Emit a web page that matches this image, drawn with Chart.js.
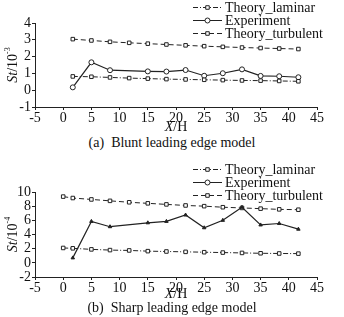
<!DOCTYPE html>
<html>
<head>
<meta charset="utf-8">
<script src="https://cdn.jsdelivr.net/npm/chart.js@4/dist/chart.umd.min.js"></script>
<style>
  body { margin: 0; background: #fff; width: 344px; height: 317px; position: relative; overflow: hidden; }
  canvas { position: absolute; left: 0; }
  .caption { position: absolute; left: 0; width: 344px; text-align: center;
             font-family: "Times New Roman", "Liberation Serif", serif; font-size: 14px; color: #111; }
</style>
</head>
<body>
<canvas id="bluntChart" width="344" height="134" style="top:0"></canvas>
<div class="caption" style="top:135px">(a)&nbsp; Blunt leading edge model</div>
<canvas id="sharpChart" width="344" height="142" style="top:160px"></canvas>
<div class="caption" style="top:300px">(b)&nbsp; Sharp leading edge model</div>
<script>
// (a) blunt leading edge, St / 10^-3
const bluntTheoryX = [1.7, 5, 8.3, 11.7, 15, 18.3, 21.7, 25, 28.3, 31.7, 35, 38.3, 41.7];
const bluntLaminar = [0.82, 0.8, 0.76, 0.72, 0.69, 0.66, 0.64, 0.62, 0.6, 0.58, 0.57, 0.55, 0.53];
const bluntTurbulent = [3.04, 2.96, 2.88, 2.82, 2.77, 2.72, 2.67, 2.62, 2.58, 2.54, 2.51, 2.48, 2.45];
const bluntExpX = [1.7, 5, 8.3, 15, 18.3, 21.7, 25, 28.3, 31.7, 35, 38.3, 41.7];
const bluntExp = [0.17, 1.66, 1.19, 1.12, 1.11, 1.2, 0.86, 1.01, 1.24, 0.85, 0.83, 0.77];

// (b) sharp leading edge, St / 10^-4
const sharpTheoryX = [0, 1.7, 5, 8.3, 11.7, 15, 18.3, 21.7, 25, 28.3, 31.7, 35, 38.3, 41.7];
const sharpLaminar = [2.1, 2.05, 1.9, 1.8, 1.75, 1.65, 1.6, 1.55, 1.5, 1.45, 1.4, 1.35, 1.32, 1.3];
const sharpTurbulent = [9.35, 9.15, 8.95, 8.75, 8.55, 8.4, 8.25, 8.1, 8.0, 7.85, 7.75, 7.65, 7.55, 7.5];
const sharpExpX = [1.7, 5, 8.3, 15, 18.3, 21.7, 25, 28.3, 31.7, 35, 38.3, 41.7];
const sharpExp = [0.7, 5.85, 5.1, 5.65, 5.85, 6.75, 4.95, 6.0, 7.85, 5.35, 5.55, 4.75];

const seriesNames = ['Theory_laminar', 'Experiment', 'Theory_turbulent'];

const FONT = '"Times New Roman", "Liberation Serif", serif';
const INK = '#222';

function toPoints(xs, ys) {
    return xs.map((x, i) => ({ x: x, y: ys[i] }));
}

// legend + axis titles drawn over the chart (legend sits inside the top of the plot)
const overlayText = {
    id: 'overlayText',
    afterDraw(chart, args, opts) {
        const ctx = chart.ctx;
        const area = chart.chartArea;
        ctx.save();

        chart.data.datasets.forEach((ds, i) => {
            const y = opts.legendY + i * 13;
            ctx.strokeStyle = ds.borderColor;
            ctx.lineWidth = 1;
            ctx.setLineDash(ds.borderDash || []);
            ctx.beginPath();
            ctx.moveTo(193, y);
            ctx.lineTo(222, y);
            ctx.stroke();
            ctx.setLineDash([]);
            ctx.fillStyle = '#fff';
            Chart.helpers.drawPoint(ctx, {
                pointStyle: i === 1 ? 'circle' : 'rect',
                radius: 2.5, borderWidth: 1, rotation: 0
            }, 207.5, y);
            ctx.fillStyle = '#111';
            ctx.font = '14px ' + FONT;
            ctx.textAlign = 'left';
            ctx.textBaseline = 'middle';
            ctx.fillText(ds.label, 225, y + 0.5);
        });

        // x title: X/H
        ctx.fillStyle = '#111';
        ctx.textBaseline = 'middle';
        ctx.font = 'italic 14px ' + FONT;
        const wX = ctx.measureText('X').width;
        ctx.font = '14px ' + FONT;
        const wH = ctx.measureText('/H').width;
        let x0 = (area.left + area.right) / 2 - (wX + wH) / 2;
        ctx.textAlign = 'left';
        ctx.font = 'italic 14px ' + FONT;
        ctx.fillText('X', x0, opts.xTitleY);
        ctx.font = '14px ' + FONT;
        ctx.fillText('/H', x0 + wX, opts.xTitleY);

        // y title: St/10^n rotated
        ctx.translate(13, (area.top + area.bottom) / 2);
        ctx.rotate(-Math.PI / 2);
        ctx.font = 'italic 14px ' + FONT;
        const wSt = ctx.measureText('St').width;
        ctx.font = '14px ' + FONT;
        const w10 = ctx.measureText('/10').width;
        ctx.font = '8px ' + FONT;
        const wExp = ctx.measureText(opts.yExp).width;
        x0 = -(wSt + w10 + wExp) / 2;
        ctx.font = 'italic 14px ' + FONT;
        ctx.fillText('St', x0, 0);
        ctx.font = '14px ' + FONT;
        ctx.fillText('/10', x0 + wSt, 0);
        ctx.font = '8px ' + FONT;
        ctx.fillText(opts.yExp, x0 + wSt + w10, -5);
        ctx.restore();
    }
};

function makeChart(canvasId, theoryX, laminar, turbulent, expX, exp, yAxis, extra) {
    const ctx = document.getElementById(canvasId).getContext('2d');
    new Chart(ctx, {
        type: 'scatter',
        data: {
            datasets: [{
                label: seriesNames[0],
                data: toPoints(theoryX, laminar),
                showLine: true,
                borderColor: INK,
                borderWidth: 1,
                borderDash: [5, 2, 1, 2],
                pointStyle: 'rect',
                pointRadius: 2.5,
                pointBorderWidth: 1,
                pointBorderColor: INK,
                pointBackgroundColor: '#fff'
            }, {
                label: seriesNames[1],
                data: toPoints(expX, exp),
                showLine: true,
                borderColor: INK,
                borderWidth: 1.2,
                pointStyle: extra.expStyle,
                pointRadius: extra.expRadius,
                pointBorderWidth: 1,
                pointBorderColor: INK,
                pointBackgroundColor: extra.expFill
            }, {
                label: seriesNames[2],
                data: toPoints(theoryX, turbulent),
                showLine: true,
                borderColor: INK,
                borderWidth: 1,
                borderDash: [5, 3],
                pointStyle: 'rect',
                pointRadius: 2.5,
                pointBorderWidth: 1,
                pointBorderColor: INK,
                pointBackgroundColor: '#fff'
            }]
        },
        options: {
            responsive: false,
            animation: false,
            layout: { padding: { top: extra.top, right: 27, left: 0, bottom: 0 } },
            scales: {
                x: {
                    type: 'linear',
                    min: -5, max: 45,
                    afterFit: (s) => { s.height = extra.xHeight; },
                    border: { display: true, color: INK, width: 1 },
                    grid: { drawOnChartArea: false, tickLength: 3, color: INK },
                    ticks: { stepSize: 5, autoSkip: false, maxRotation: 0, padding: 0, color: '#111', font: { family: FONT, size: 14 } }
                },
                y: {
                    min: yAxis.min, max: yAxis.max,
                    afterFit: (s) => { s.width = 35; },
                    border: { display: true, color: INK, width: 1 },
                    grid: { drawOnChartArea: false, tickLength: 3, color: INK },
                    ticks: { stepSize: yAxis.step, autoSkip: false, padding: 1, color: '#111', font: { family: FONT, size: 14 } }
                }
            },
            plugins: {
                legend: { display: false },
                tooltip: { enabled: false },
                overlayText: { legendY: extra.legendY, xTitleY: extra.xTitleY, yExp: yAxis.exp }
            }
        },
        plugins: [overlayText]
    });
}

makeChart('bluntChart', bluntTheoryX, bluntLaminar, bluntTurbulent, bluntExpX, bluntExp,
    { min: -1, max: 4, step: 1, exp: '-3' },
    { top: 23, xHeight: 27, legendY: 7.5, xTitleY: 127, expStyle: 'circle', expRadius: 2.5, expFill: '#fff' });

makeChart('sharpChart', sharpTheoryX, sharpLaminar, sharpTurbulent, sharpExpX, sharpExp,
    { min: -2, max: 10, step: 2, exp: '-4' },
    { top: 32, xHeight: 25, legendY: 9.5, xTitleY: 134, expStyle: 'triangle', expRadius: 2, expFill: INK });
</script>
</body>
</html>
